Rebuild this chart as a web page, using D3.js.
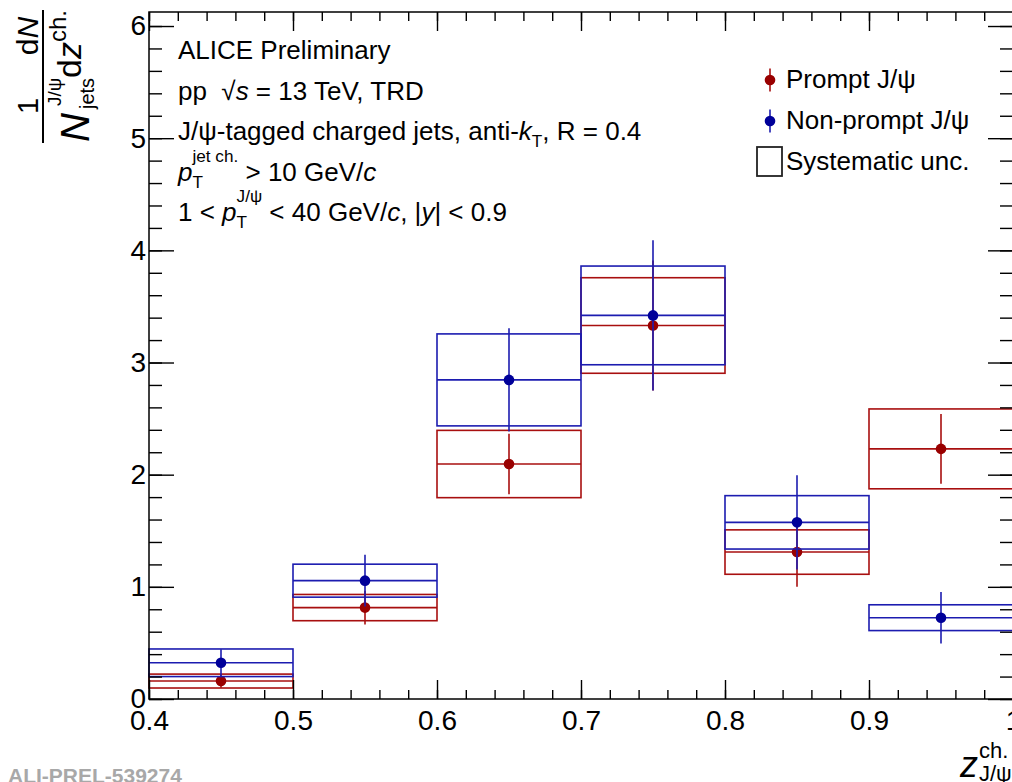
<!DOCTYPE html>
<html>
<head>
<meta charset="utf-8">
<script src="https://cdn.jsdelivr.net/npm/d3@7"></script>
<style>
  html, body { margin: 0; padding: 0; background: #fff; }
  svg { display: block; }
  text { font-family: "Liberation Sans", Arial, Helvetica, sans-serif; white-space: pre; }
</style>
</head>
<body>
<svg id="chart" width="1012" height="782"></svg>
<script>
// ---------------- data ----------------
const binLow   = [0.4, 0.5, 0.6, 0.7, 0.8, 0.9];
const binHigh  = [0.5, 0.6, 0.7, 0.8, 0.9, 1.0];
const binCenter = [0.45, 0.55, 0.65, 0.75, 0.85, 0.95];

const prompt      = [0.16, 0.815, 2.095, 3.33, 1.31, 2.23];
const promptStat  = [0.06, 0.15, 0.27, 0.58, 0.31, 0.31];
const promptSys   = [0.062, 0.117, 0.30, 0.426, 0.198, 0.356];

const nonprompt     = [0.323, 1.055, 2.845, 3.42, 1.575, 0.725];
const nonpromptStat = [0.12, 0.23, 0.46, 0.67, 0.42, 0.23];
const nonpromptSys  = [0.123, 0.147, 0.41, 0.44, 0.238, 0.115];

const xDomain = [0.4, 1.0];
const yDomain = [0, 6.125];

const legendLabels = ["Prompt J/\u03c8", "Non-prompt J/\u03c8", "Systematic unc."];

// ---------------- setup ----------------
const svg = d3.select("#chart");
const L = 149, R = 1013, T = 12, B = 699;
const x = d3.scaleLinear().domain(xDomain).range([L, R]);
const y = d3.scaleLinear().domain(yDomain).range([B, T]);

const redLine = "#a80f0f", redDot = "#990000";
const blueLine = "#1c1cb0", blueDot = "#000099";

// ---------------- series ----------------
function drawSeries(vals, stat, sys, lineCol, dotCol) {
  const g = svg.append("g");
  const idx = d3.range(vals.length);
  g.selectAll("rect.sys").data(idx).join("rect")
    .attr("x", i => x(binLow[i]))
    .attr("width", i => x(binHigh[i]) - x(binLow[i]))
    .attr("y", i => y(vals[i] + sys[i]))
    .attr("height", i => y(vals[i] - sys[i]) - y(vals[i] + sys[i]))
    .attr("fill", "none").attr("stroke", lineCol).attr("stroke-width", 1.6);
  g.selectAll("line.h").data(idx).join("line")
    .attr("x1", i => x(binLow[i])).attr("x2", i => x(binHigh[i]))
    .attr("y1", i => y(vals[i])).attr("y2", i => y(vals[i]))
    .attr("stroke", lineCol).attr("stroke-width", 1.6);
  g.selectAll("line.v").data(idx).join("line")
    .attr("x1", i => x(binCenter[i])).attr("x2", i => x(binCenter[i]))
    .attr("y1", i => y(vals[i] + stat[i])).attr("y2", i => y(vals[i] - stat[i]))
    .attr("stroke", lineCol).attr("stroke-width", 1.6);
  g.selectAll("circle").data(idx).join("circle")
    .attr("cx", i => x(binCenter[i])).attr("cy", i => y(vals[i]))
    .attr("r", 5.3).attr("fill", dotCol);
}
drawSeries(prompt, promptStat, promptSys, redLine, redDot);
drawSeries(nonprompt, nonpromptStat, nonpromptSys, blueLine, blueDot);

// ---------------- axes ----------------
function styleAxis(g) {
  g.select(".domain").remove();
  g.selectAll(".tick line").attr("stroke", "#000").attr("stroke-width", 1.4);
  g.selectAll(".tick text").attr("fill", "#000").attr("font-size", 28)
    .attr("font-family", "Liberation Sans, Arial, sans-serif");
}
const fmt = d3.format("");
svg.append("g").attr("transform", `translate(0,${B})`)
  .call(d3.axisBottom(x).tickValues(x.ticks(30)).tickSize(-9).tickFormat(""))
  .call(styleAxis);
svg.append("g").attr("transform", `translate(0,${B})`)
  .call(d3.axisBottom(x).ticks(6).tickSize(-19).tickPadding(11).tickFormat(fmt))
  .call(styleAxis);
svg.append("g").attr("transform", `translate(0,${T})`)
  .call(d3.axisTop(x).tickValues(x.ticks(30)).tickSize(-9).tickFormat(""))
  .call(styleAxis);
svg.append("g").attr("transform", `translate(0,${T})`)
  .call(d3.axisTop(x).ticks(6).tickSize(-19).tickFormat(""))
  .call(styleAxis);
svg.append("g").attr("transform", `translate(${L},0)`)
  .call(d3.axisLeft(y).tickValues(y.ticks(30)).tickSize(-13).tickFormat(""))
  .call(styleAxis);
svg.append("g").attr("transform", `translate(${L},0)`)
  .call(d3.axisLeft(y).ticks(6).tickSize(-25).tickPadding(3).tickFormat(fmt))
  .call(styleAxis);
svg.append("g").attr("transform", `translate(${R},0)`)
  .call(d3.axisRight(y).tickValues(y.ticks(30)).tickSize(-13).tickFormat(""))
  .call(styleAxis);
svg.append("g").attr("transform", `translate(${R},0)`)
  .call(d3.axisRight(y).ticks(6).tickSize(-25).tickFormat(""))
  .call(styleAxis);
svg.append("rect").attr("x", L).attr("y", T).attr("width", R - L).attr("height", B - T)
  .attr("fill", "none").attr("stroke", "#000").attr("stroke-width", 1.5);

// ---------------- rich text helper ----------------
function rich(parent, x0, y0, parts, fs) {
  let cx = x0;
  function add(s, px) {
    const small = s.sub || s.sup;
    const size = s.size || (small ? fs * 0.66 : fs);
    const dy = s.dy !== undefined ? s.dy : (s.sub ? fs * 0.28 : s.sup ? -fs * 0.72 : 0);
    const t = parent.append("text").attr("x", px).attr("y", y0 + dy)
      .attr("font-size", size).attr("fill", "#000")
      .attr("font-style", s.i ? "italic" : "normal")
      .text(s.t);
    return t.node().getComputedTextLength();
  }
  parts.forEach(p => {
    if (p.stack) {
      let w = 0;
      p.stack.forEach(s => { w = Math.max(w, add(s, cx)); });
      cx += w;
    } else {
      cx += add(p, cx) + (p.gap || 0);
    }
  });
  return cx;
}

// ---------------- info text ----------------
const FS = 26, TX = 178;
const info = svg.append("g");
rich(info, TX, 59, [{t: "ALICE Preliminary"}], FS);
rich(info, TX, 100, [{t: "pp  \u221a"}, {t: "s", i: 1}, {t: " = 13 TeV, TRD"}], FS);
rich(info, TX, 140, [{t: "J/\u03c8-tagged charged jets, anti-"}, {t: "k", i: 1}, {t: "T", sub: 1}, {t: ", R = 0.4"}], FS);
rich(info, TX, 181, [{t: "p", i: 1}, {stack: [{t: "T", sub: 1}, {t: "jet ch.", sup: 1}]}, {t: " > 10 GeV/"}, {t: "c", i: 1}], FS);
rich(info, TX, 221, [{t: "1 < "}, {t: "p", i: 1}, {stack: [{t: "T", sub: 1}, {t: "J/\u03c8", sup: 1}]}, {t: " < 40 GeV/"}, {t: "c", i: 1}, {t: ", |"}, {t: "y", i: 1}, {t: "| < 0.9"}], FS);

// ---------------- legend ----------------
const leg = svg.append("g");
const legY = [80, 121];
[[redLine, redDot], [blueLine, blueDot]].forEach((c, i) => {
  leg.append("line").attr("x1", 770).attr("x2", 770)
    .attr("y1", legY[i] - 11.5).attr("y2", legY[i] + 11.5)
    .attr("stroke", c[0]).attr("stroke-width", 1.6);
  leg.append("circle").attr("cx", 770).attr("cy", legY[i]).attr("r", 5.3).attr("fill", c[1]);
});
leg.append("rect").attr("x", 757).attr("y", 147).attr("width", 25).attr("height", 29)
  .attr("fill", "none").attr("stroke", "#222").attr("stroke-width", 1.8);
[88, 129, 170].forEach((by, i) => {
  leg.append("text").attr("x", 786).attr("y", by).attr("font-size", FS).attr("fill", "#000").text(legendLabels[i]);
});

// ---------------- y title (rotated fraction) ----------------
const yt = svg.append("g").attr("transform", "translate(0,143) rotate(-90)");
yt.append("line").attr("x1", 0).attr("x2", 133).attr("y1", 43).attr("y2", 43)
  .attr("stroke", "#000").attr("stroke-width", 2);
yt.append("text").attr("x", 37).attr("y", 38).attr("text-anchor", "middle").attr("font-size", 29).text("1");
yt.append("text").attr("x", 107).attr("y", 38).attr("text-anchor", "middle").attr("font-size", 30)
  .call(t => { t.append("tspan").text("d"); t.append("tspan").attr("font-style", "italic").text("N"); });
yt.append("text").attr("x", 1).attr("y", 89).attr("font-size", 40).attr("font-style", "italic").text("N");
yt.append("text").attr("x", 37).attr("y", 61).attr("font-size", 19).text("J/\u03c8");
yt.append("text").attr("x", 34).attr("y", 94).attr("font-size", 20).text("jets");
yt.append("text").attr("x", 65).attr("y", 81).attr("font-size", 34)
  .call(t => { t.append("tspan").text("d"); t.append("tspan").attr("font-style", "italic").text("z"); });
yt.append("text").attr("x", 101).attr("y", 66).attr("font-size", 24).text("ch.");

// ---------------- x title ----------------
const xt = svg.append("g");
xt.append("text").attr("x", 960).attr("y", 777).attr("font-size", 36).attr("font-style", "italic").text("z");
xt.append("text").attr("x", 979).attr("y", 758).attr("font-size", 22).text("ch.");
xt.append("text").attr("x", 979).attr("y", 781).attr("font-size", 22).text("J/\u03c8");

// ---------------- watermark ----------------
svg.append("text").attr("x", 8).attr("y", 783)
  .attr("font-family", "Liberation Mono, Courier New, monospace")
  .attr("font-weight", "bold").attr("font-size", 21).attr("fill", "#a8a8a8")
  .text("ALI-PREL-539274");
</script>
</body>
</html>
